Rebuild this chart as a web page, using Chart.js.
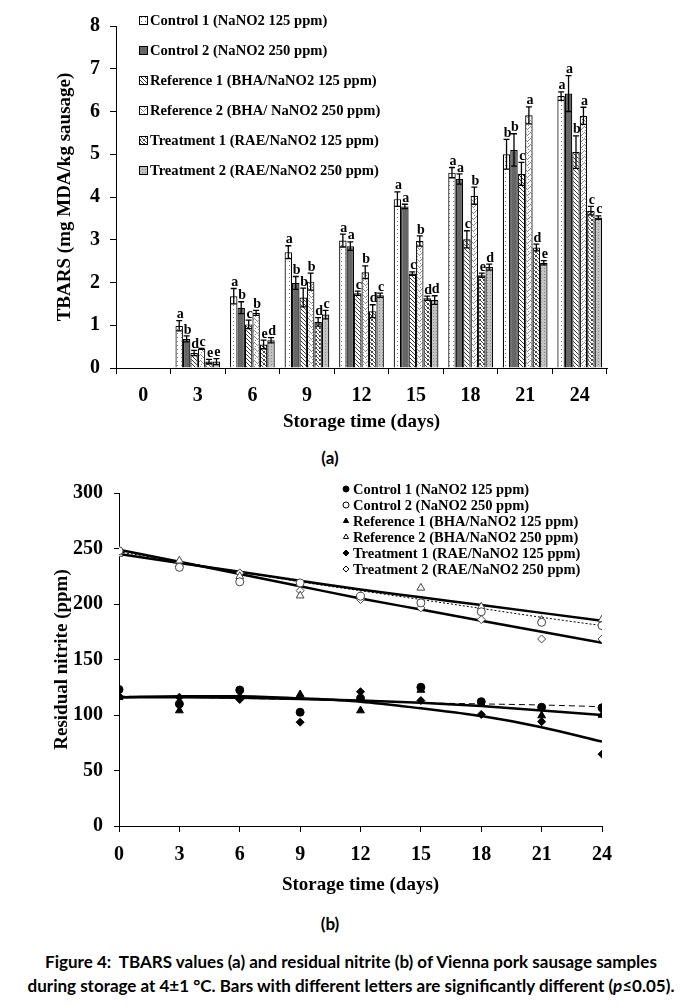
<!DOCTYPE html>
<html>
<head>
<meta charset="utf-8">
<script src="https://cdn.jsdelivr.net/npm/chart.js@4.4.1/dist/chart.umd.min.js"></script>
<style>
  body { margin: 0; background: #fff; width: 695px; height: 1006px; position: relative; overflow: hidden; }
  canvas { position: absolute; left: 0; }
  .cap { position: absolute; font-family: Lato, "Open Sans", sans-serif; font-weight: bold; color: #000; white-space: nowrap; transform: translate(-50%, -50%); }
</style>
</head>
<body>
<canvas id="tbars" width="695" height="440" style="top:0"></canvas>
<canvas id="nitrite" width="695" height="430" style="top:470px"></canvas>
<div class="cap" style="left:330px;top:457px;font-size:17px">(a)</div>
<div class="cap" style="left:330px;top:923px;font-size:17px">(b)</div>
<div class="cap" style="left:351px;top:961px;font-size:17px">Figure 4:&nbsp; TBARS values (a) and residual nitrite (b) of Vienna pork sausage samples</div>
<div class="cap" style="left:351px;top:985px;font-size:17px">during storage at 4±1 °C. Bars with different letters are significantly different (<i>p</i>≤0.05).</div>
<script>
// (a) TBARS, mg MDA/kg sausage
const days = ['0', '3', '6', '9', '12', '15', '18', '21', '24'];
const control1 = [null, 0.99, 1.68, 2.71, 2.98, 3.95, 4.57, 5.0, 6.36];
const control2 = [null, 0.68, 1.41, 1.99, 2.85, 3.78, 4.42, 5.1, 6.42];
const reference1 = [null, 0.35, 1.02, 1.65, 1.75, 2.21, 3.01, 4.54, 5.05];
const reference2 = [null, 0.45, 1.29, 2.02, 2.24, 2.97, 4.03, 5.91, 5.9];
const treatment1 = [null, 0.15, 0.55, 1.08, 1.33, 1.63, 2.17, 2.82, 3.68];
const treatment2 = [null, 0.15, 0.65, 1.25, 1.7, 1.59, 2.36, 2.46, 3.52];

const errC1 = [null, 0.12, 0.18, 0.15, 0.15, 0.17, 0.12, 0.35, 0.1];
const errC2 = [null, 0.07, 0.14, 0.15, 0.1, 0.05, 0.12, 0.38, 0.42];
const errR1 = [null, 0.06, 0.1, 0.22, 0.05, 0.04, 0.2, 0.27, 0.38];
const errR2 = [null, 0.01, 0.06, 0.2, 0.15, 0.12, 0.2, 0.2, 0.2];
const errT1 = [null, 0.05, 0.1, 0.1, 0.15, 0.05, 0.05, 0.08, 0.1];
const errT2 = [null, 0.07, 0.06, 0.1, 0.05, 0.1, 0.07, 0.05, 0.04];

const letC1 = ['', 'a', 'a', 'a', 'a', 'a', 'a', 'b', 'a'];
const letC2 = ['', 'b', 'b', 'b', 'a', 'a', 'a', 'b', 'a'];
const letR1 = ['', 'd', 'c', 'b', 'c', 'c', 'c', 'c', 'b'];
const letR2 = ['', 'c', 'b', 'b', 'b', 'b', 'b', 'a', 'a'];
const letT1 = ['', 'e', 'e', 'd', 'd', 'd', 'e', 'd', 'c'];
const letT2 = ['', 'e', 'd', 'c', 'c', 'd', 'd', 'e', 'c'];

// (b) residual nitrite, ppm
const nitriteDays = [0, 3, 6, 9, 12, 15, 18, 21, 24];
const nitC1 = [123, 110, 122.5, 102.5, 115, 125, 112, 107, 106.5];
const nitC2 = [248, 233, 220, 219, 207, 201, 193, 183.5, 180.5];
const nitR1 = [116, 104, 117, 118.5, 104, 122.5, 110, 99.5, 100];
const nitR2 = [245, 239, 225, 207.5, 207, 214.5, 197.5, 185.5, 186];
const nitT1 = [117, 116, 114, 93.5, 121, 113, 100.5, 94, 64.7];
const nitT2 = [247, 234, 228, 212, 204, 196.5, 186, 168.5, 168.5];

// trend lines
const fitC1 = [117, 116, 115, 114, 113, 111, 110, 109, 107.5];
const fitC2 = [247, 238, 229, 220, 212, 204, 196, 188, 180.5];
const fitR1 = [116, 116, 115.5, 114.5, 113, 111, 108, 104, 100];
const fitR2 = [245, 237, 229, 221, 213, 206, 199, 192, 185];
const fitT1 = [116, 117, 117, 115, 112, 106, 99, 89, 76];
const fitT2 = [249, 238, 227, 216, 205, 195, 185, 175, 165];

const SERIF = '"Liberation Serif", "Times New Roman", serif';
Chart.defaults.font.family = SERIF;
Chart.defaults.font.weight = 'bold';
Chart.defaults.color = '#000';

const pattern = (size, bg, fg, pixels) => {
  const c = document.createElement('canvas');
  c.width = c.height = size;
  const g = c.getContext('2d');
  g.fillStyle = bg;
  g.fillRect(0, 0, size, size);
  g.fillStyle = fg;
  pixels.forEach(([x, y]) => g.fillRect(x, y, 1, 1));
  return g.createPattern(c, 'repeat');
};

const fills = [
  pattern(4, '#fff', '#777', [[1, 1]]),
  '#666',
  pattern(4, '#fff', '#333', [[0, 0], [1, 1], [2, 2], [3, 3]]),
  pattern(6, '#fff', '#888', [[0, 2], [1, 1], [2, 0], [3, 1], [4, 2], [5, 3], [0, 5], [3, 4]]),
  pattern(4, '#fff', '#444', [[0, 0], [1, 1], [2, 2], [3, 3], [3, 0], [0, 3]]),
  pattern(3, '#c2c2c2', '#8a8a8a', [[1, 1]]),
];

const barSeries = [
  { label: 'Control 1 (NaNO2 125 ppm)', data: control1, errors: errC1, letters: letC1 },
  { label: 'Control 2 (NaNO2 250 ppm)', data: control2, errors: errC2, letters: letC2 },
  { label: 'Reference 1 (BHA/NaNO2 125 ppm)', data: reference1, errors: errR1, letters: letR1 },
  { label: 'Reference 2 (BHA/ NaNO2 250 ppm)', data: reference2, errors: errR2, letters: letR2 },
  { label: 'Treatment 1 (RAE/NaNO2 125 ppm)', data: treatment1, errors: errT1, letters: letT1 },
  { label: 'Treatment 2 (RAE/NaNO2 250 ppm)', data: treatment2, errors: errT2, letters: letT2 },
];

const errorBars = {
  id: 'errorBars',
  afterDatasetsDraw(chart) {
    const { ctx } = chart;
    const yScale = chart.scales.y;
    ctx.save();
    ctx.strokeStyle = '#000';
    ctx.lineWidth = 1.3;
    ctx.fillStyle = '#000';
    ctx.font = 'bold 14px ' + SERIF;
    ctx.textAlign = 'center';
    ctx.textBaseline = 'bottom';
    chart.data.datasets.forEach((ds, i) => {
      chart.getDatasetMeta(i).data.forEach((bar, j) => {
        const v = ds.data[j];
        if (v == null) return;
        const e = ds.errors[j];
        const top = yScale.getPixelForValue(v + e);
        const bottom = yScale.getPixelForValue(v - e);
        ctx.beginPath();
        ctx.moveTo(bar.x, top);
        ctx.lineTo(bar.x, bottom);
        ctx.moveTo(bar.x - 3, top);
        ctx.lineTo(bar.x + 3, top);
        ctx.moveTo(bar.x - 3, bottom);
        ctx.lineTo(bar.x + 3, bottom);
        ctx.stroke();
        ctx.fillText(ds.letters[j], bar.x + 1, top + 1);
      });
    });
    ctx.restore();
  },
};

const legendA = {
  id: 'legendA',
  afterDraw(chart) {
    const { ctx } = chart;
    ctx.save();
    ctx.font = 'bold 14.6px ' + SERIF;
    ctx.textBaseline = 'middle';
    chart.data.datasets.forEach((ds, i) => {
      const y = 20 + 30 * i;
      ctx.fillStyle = ds.backgroundColor;
      ctx.fillRect(139, y - 4, 9, 9);
      ctx.strokeStyle = '#000';
      ctx.lineWidth = 1;
      ctx.strokeRect(139.5, y - 3.5, 8, 8);
      ctx.fillStyle = '#000';
      ctx.fillText(ds.label, 150, y + 1);
    });
    ctx.restore();
  },
};

new Chart(document.getElementById('tbars'), {
  type: 'bar',
  data: {
    labels: days,
    datasets: barSeries.map((s, i) => ({
      ...s,
      backgroundColor: fills[i],
      borderColor: '#000',
      borderWidth: 1.2,
      barPercentage: 1,
      categoryPercentage: 0.82,
    })),
  },
  options: {
    responsive: false,
    animation: false,
    layout: { padding: { top: 26, right: 88, left: 0, bottom: 0 } },
    plugins: { legend: { display: false }, tooltip: { enabled: false } },
    scales: {
      x: {
        offset: true,
        grid: { offset: true, drawOnChartArea: false, tickLength: 6, color: '#000' },
        border: { color: '#000' },
        ticks: { font: { size: 20 }, padding: 10 },
        title: { display: true, text: 'Storage time (days)', font: { size: 19 }, padding: { top: 0, bottom: 7 } },
        afterFit: (s) => { s.height = 72; },
      },
      y: {
        min: 0,
        max: 8,
        ticks: { stepSize: 1, font: { size: 20 }, padding: 10 },
        grid: { drawOnChartArea: false, tickLength: 6, color: '#000' },
        border: { color: '#000' },
        title: { display: true, text: 'TBARS (mg MDA/kg sausage)', font: { size: 19 }, padding: { top: 54, bottom: 0 } },
        afterFit: (s) => { s.width = 116; },
      },
    },
  },
  plugins: [errorBars, legendA],
});

// (b)
const pointSeries = [
  { label: 'Control 1 (NaNO2 125 ppm)', values: nitC1, style: 'circle', fill: '#000', radius: 4 },
  { label: 'Control 2 (NaNO2 250 ppm)', values: nitC2, style: 'circle', fill: '#fff', radius: 4 },
  { label: 'Reference 1 (BHA/NaNO2 125 ppm)', values: nitR1, style: 'triangle', fill: '#000', radius: 4.5 },
  { label: 'Reference 2 (BHA/NaNO2 250 ppm)', values: nitR2, style: 'triangle', fill: '#fff', radius: 4.5 },
  { label: 'Treatment 1 (RAE/NaNO2 125 ppm)', values: nitT1, style: 'rectRot', fill: '#000', radius: 4 },
  { label: 'Treatment 2 (RAE/NaNO2 250 ppm)', values: nitT2, style: 'rectRot', fill: '#fff', radius: 4 },
];

const fitSeries = [
  { values: fitC1, width: 1, dash: [6, 4] },
  { values: fitC2, width: 1, dash: [2, 2] },
  { values: fitR1, width: 2.5, dash: [] },
  { values: fitR2, width: 2.5, dash: [] },
  { values: fitT1, width: 2.5, dash: [] },
  { values: fitT2, width: 2.5, dash: [] },
];

const legendB = {
  id: 'legendB',
  afterDraw(chart) {
    const { ctx } = chart;
    ctx.save();
    ctx.font = 'bold 14.5px ' + SERIF;
    ctx.textBaseline = 'middle';
    pointSeries.forEach((s, i) => {
      const y = 19 + 16 * i;
      ctx.fillStyle = s.fill;
      ctx.strokeStyle = '#000';
      ctx.lineWidth = 1;
      Chart.helpers.drawPoint(ctx, { pointStyle: s.style, radius: 3, rotation: 0, borderWidth: 1 }, 346, y);
      ctx.fillStyle = '#000';
      ctx.fillText(s.label, 353, y + 1);
    });
    ctx.restore();
  },
};

new Chart(document.getElementById('nitrite'), {
  type: 'scatter',
  data: {
    datasets: [
      ...pointSeries.map((s) => ({
        label: s.label,
        data: nitriteDays.map((d, i) => ({ x: d, y: s.values[i] })),
        pointStyle: s.style,
        pointRadius: s.radius,
        backgroundColor: s.fill,
        borderColor: s.fill === '#000' ? '#000' : '#444',
        borderWidth: 1,
      })),
      ...fitSeries.map((f) => ({
        data: nitriteDays.map((d, i) => ({ x: d, y: f.values[i] })),
        showLine: true,
        pointRadius: 0,
        borderColor: '#000',
        borderWidth: f.width,
        borderDash: f.dash,
        cubicInterpolationMode: 'monotone',
      })),
    ],
  },
  options: {
    responsive: false,
    animation: false,
    layout: { padding: { top: 19, right: 93, left: 0, bottom: 0 } },
    plugins: { legend: { display: false }, tooltip: { enabled: false } },
    scales: {
      x: {
        type: 'linear',
        min: 0,
        max: 24,
        ticks: { stepSize: 3, font: { size: 20 }, padding: 11 },
        grid: { drawOnChartArea: false, tickLength: 6, color: '#000' },
        border: { color: '#000' },
        title: { display: true, text: 'Storage time (days)', font: { size: 19 }, padding: { top: 0, bottom: 4 } },
        afterFit: (s) => { s.height = 74; },
      },
      y: {
        min: 0,
        max: 300,
        ticks: { stepSize: 50, font: { size: 20 }, padding: 11 },
        grid: { drawOnChartArea: false, tickLength: 5, color: '#000' },
        border: { color: '#000' },
        title: { display: true, text: 'Residual nitrite (ppm)', font: { size: 19 }, padding: { top: 51, bottom: 0 } },
        afterFit: (s) => { s.width = 119; },
      },
    },
  },
  plugins: [legendB],
});
</script>
</body>
</html>
